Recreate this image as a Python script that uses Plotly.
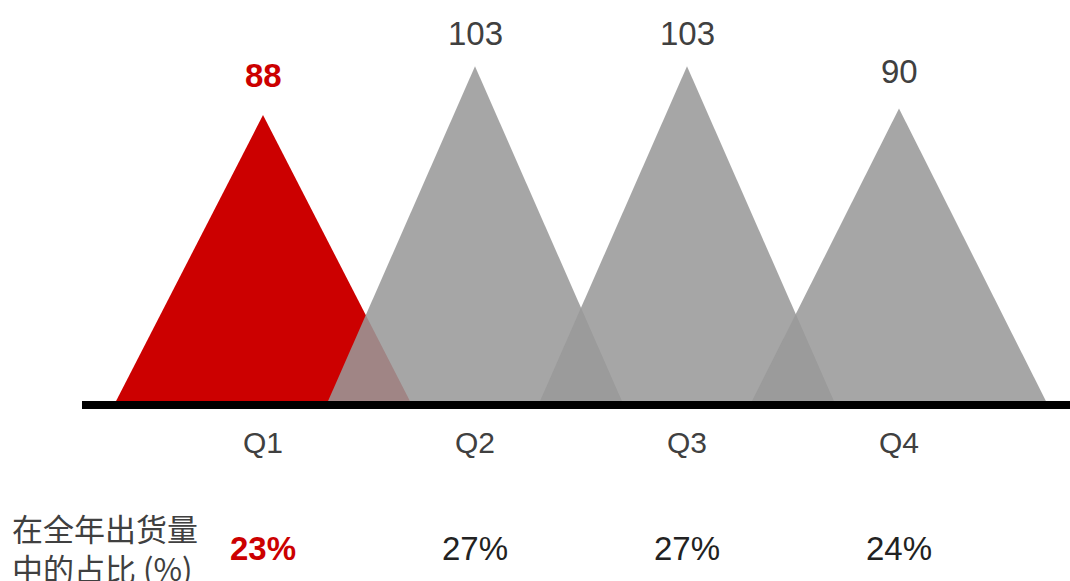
import plotly.graph_objects as go

quarters = ["Q1", "Q2", "Q3", "Q4"]
shipments = [88, 103, 103, 90]
shares = ["23%", "27%", "27%", "24%"]
row_label = "在全年出货量<br>中的占比 (%)"

RED = "#CC0000"
GRAY = "rgba(153,153,153,0.87)"
TEXT = "#404040"
HALF = 0.693  # half base width in category units
LABEL_SHIFT = [19, 12, 12, 17]  # px gap above each peak

W, H = 1070, 581
px_per_cat = 212.0
x0_px = 263.0
base_px = 401.0
px_per_unit = 3.25

x_min = (0 - x0_px) / px_per_cat
x_max = (W - x0_px) / px_per_cat
y_max = base_px / px_per_unit
y_min = -(H - base_px) / px_per_unit

fig = go.Figure()
for i, (q, v) in enumerate(zip(quarters, shipments)):
    color = RED if i == 0 else GRAY
    fig.add_trace(go.Scatter(
        x=[i - HALF, i, i + HALF, i - HALF],
        y=[0, v, 0, 0],
        mode="lines", fill="toself", fillcolor=color,
        line=dict(width=0, color=color), hoverinfo="skip", showlegend=False,
    ))
    fig.add_annotation(
        x=i, y=v, xref="x", yref="y",
        text=("<b>%d</b>" % v) if i == 0 else str(v),
        showarrow=False, yanchor="bottom", yshift=LABEL_SHIFT[i],
        font=dict(family="Liberation Sans, Arial", size=33,
                  color=RED if i == 0 else TEXT),
    )
    fig.add_annotation(
        x=i, y=1 - 443 / H, xref="x", yref="paper", text=q, showarrow=False,
        yanchor="middle",
        font=dict(family="Liberation Sans, Arial", size=30, color=TEXT),
    )
    fig.add_annotation(
        x=i, y=1 - 548 / H, xref="x", yref="paper",
        text=("<b>%s</b>" % shares[i]) if i == 0 else shares[i],
        showarrow=False, yanchor="middle",
        font=dict(family="Liberation Sans, Arial", size=33,
                  color=RED if i == 0 else "#222222"),
    )

fig.add_annotation(
    x=10 / W, y=1 - 547 / H, xref="paper", yref="paper", text=row_label,
    showarrow=False, xanchor="left", yanchor="middle", align="left",
    font=dict(family="Noto Sans CJK SC, Liberation Sans", size=31, color=TEXT),
)

# baseline axis
fig.add_shape(type="rect", xref="x", yref="y",
              x0=(82 - x0_px) / px_per_cat, x1=x_max + 1,
              y0=0, y1=-8 / px_per_unit,
              fillcolor="black", line=dict(width=0), layer="above")

fig.update_layout(
    width=W, height=H, margin=dict(l=0, r=0, t=0, b=0),
    paper_bgcolor="white", plot_bgcolor="white",
    xaxis=dict(range=[x_min, x_max], visible=False, fixedrange=True),
    yaxis=dict(range=[y_min, y_max], visible=False, fixedrange=True),
    showlegend=False,
)
fig.write_html("out.html", config={"displayModeBar": False},
               post_script="document.body.style.margin='0';document.body.style.overflow='hidden';")
